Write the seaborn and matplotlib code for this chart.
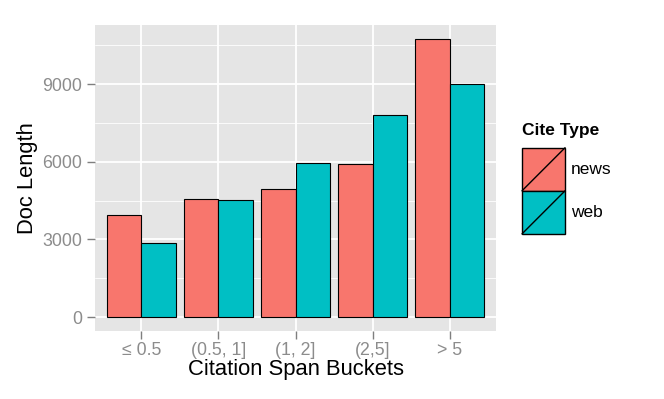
import matplotlib
matplotlib.use('Agg')

import pandas as pd
import matplotlib.pyplot as plt
import seaborn as sns
from matplotlib.patches import Rectangle, Patch
from matplotlib.lines import Line2D
from matplotlib.legend_handler import HandlerPatch
from matplotlib.ticker import MultipleLocator

# 数据
buckets = ["≤ 0.5", "(0.5, 1]", "(1, 2]", "(2,5]", "> 5"]
news_len = [3930, 4570, 4950, 5900, 10750]
web_len = [2850, 4520, 5970, 7800, 9000]
cite_types = ["news", "web"]
colors = ["#F8766D", "#00BFC4"]

df = pd.DataFrame({
    "bucket": buckets * 2,
    "length": news_len + web_len,
    "cite": ["news"] * len(buckets) + ["web"] * len(buckets),
})

sns.set_theme(style="darkgrid", rc={
    "axes.facecolor": "#E5E5E5",
    "grid.color": "white",
    "text.color": "black",
})
plt.rcParams['font.family'] = ['Liberation Sans', 'DejaVu Sans']

fig = plt.figure(figsize=(6.64, 3.99), dpi=100)
ax = fig.add_axes([95 / 664, 68 / 399, 401 / 664, 306 / 399])

sns.barplot(data=df, x="bucket", y="length", hue="cite", order=buckets,
            hue_order=cite_types, palette=colors, width=0.9,
            edgecolor="black", linewidth=0.8, saturation=1, legend=False, ax=ax)

ax.set_xlim(-0.6, len(buckets) - 0.4)
ax.set_ylim(-537, 11287)
ax.set_yticks([0, 3000, 6000, 9000])
ax.yaxis.set_minor_locator(MultipleLocator(1500))
ax.grid(which="major", color="white", linewidth=1.3)
ax.grid(which="minor", axis="y", color="white", linewidth=0.6)
ax.set_axisbelow(True)
for s in ax.spines.values():
    s.set_visible(False)

ax.tick_params(axis="both", which="major", length=5.8, width=1, color="#7F7F7F",
               labelcolor="#8C8C8C", labelsize=12.8, bottom=True, left=True)
ax.tick_params(axis="x", which="major", pad=2)
ax.tick_params(axis="y", which="major", pad=3.5)
ax.tick_params(axis="y", which="minor", length=0)

ax.set_xlabel("Citation Span Buckets", fontsize=15.8, color="black", labelpad=0)
ax.set_ylabel("Doc Length", fontsize=15.8, color="black", labelpad=3)


class HandlerDiag(HandlerPatch):
    def create_artists(self, legend, orig_handle, xdescent, ydescent,
                       width, height, fontsize, trans):
        r = Rectangle((-xdescent, -ydescent), width, height,
                      facecolor=orig_handle.get_facecolor(), edgecolor="black",
                      linewidth=1.0, transform=trans)
        ln = Line2D([-xdescent, -xdescent + width], [-ydescent, -ydescent + height],
                    color="black", linewidth=1.0, transform=trans)
        return [r, ln]


handles = [Patch(facecolor=c, edgecolor="black") for c in colors]
leg = fig.legend(handles, cite_types, loc="upper left",
                 bbox_to_anchor=(522 / 664, 1 - 123 / 399),
                 frameon=False, fontsize=12.5, title="Cite Type",
                 title_fontproperties={"weight": "bold", "size": 12.5},
                 handlelength=2.48, handleheight=3.44, labelspacing=0,
                 handletextpad=0.35, borderaxespad=0, borderpad=0,
                 alignment="left", labelcolor="black",
                 handler_map={Patch: HandlerDiag()})
leg.get_title().set_color("black")
leg._legend_box.sep = 7  # 标题和图例块之间的间距

plt.savefig("out.png", dpi=100)
plt.close()
